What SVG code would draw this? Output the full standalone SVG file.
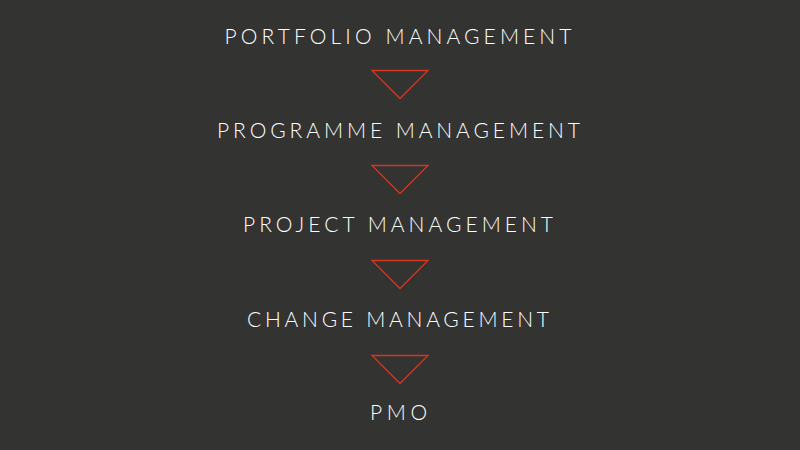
<svg xmlns="http://www.w3.org/2000/svg" width="800" height="450" viewBox="0 0 800 450">
<style>
.bg{fill:#333332}
.lbl{font-family:Lato,"Noto Sans","Liberation Sans",sans-serif;font-weight:300;font-size:21px;fill:#ffffff;text-anchor:middle}
.tri{fill:none;stroke:#d8351f;stroke-width:1.3;stroke-linejoin:miter}
</style>
<rect class="bg" x="0" y="0" width="800" height="450"/>
<g id="portfolio"><text class="lbl" x="398" y="44" textLength="347" lengthAdjust="spacing">PORTFOLIO MANAGEMENT</text></g>
<g id="programme"><text class="lbl" x="398.5" y="137.5" textLength="363" lengthAdjust="spacing">PROGRAMME MANAGEMENT</text></g>
<g id="project"><text class="lbl" x="398" y="232" textLength="310" lengthAdjust="spacing">PROJECT MANAGEMENT</text></g>
<g id="change"><text class="lbl" x="398" y="327" textLength="302" lengthAdjust="spacing">CHANGE MANAGEMENT</text></g>
<g id="pmo"><text class="lbl" x="398.5" y="420" textLength="57" lengthAdjust="spacing">PMO</text></g>
<g id="connectors">
<polygon class="tri" points="372,70.5 428,70.5 400,98.5"/>
<polygon class="tri" points="372,165.5 428,165.5 400,193.5"/>
<polygon class="tri" points="372,260.5 428,260.5 400,288.5"/>
<polygon class="tri" points="372,355.5 428,355.5 400,383.5"/>
</g>
</svg>
